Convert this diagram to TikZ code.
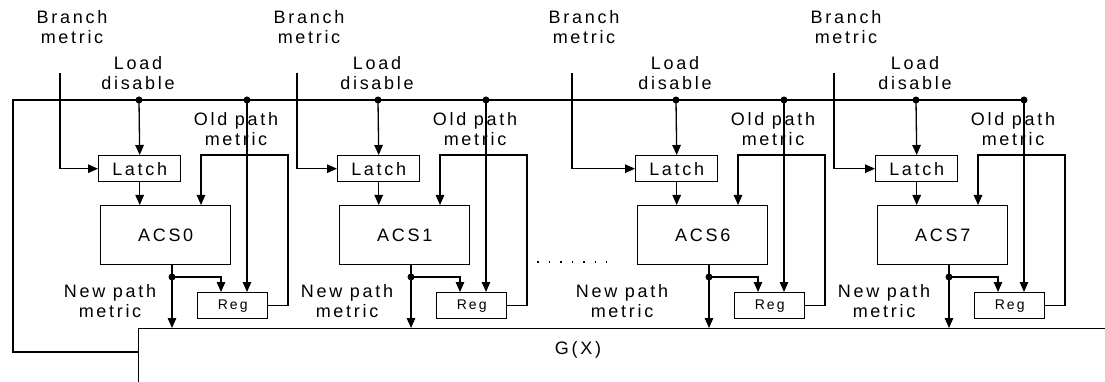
\documentclass[tikz,border=0pt]{standalone}
\usepackage{fontspec}
\setmainfont{Liberation Sans}[LetterSpace=15]
\usetikzlibrary{positioning,arrows.meta}

\tikzset{
  blk/.style={draw, line width=1.4pt, inner sep=0pt},
  sig/.style={line width=1.3pt},
  arr/.style={sig, -{Triangle[length=10pt,width=8.5pt]}},
  lbl/.style={align=center, font=\fontsize{18}{20.5}\selectfont, inner sep=0pt},
  small/.style={font=\fontsize{14}{16}\selectfont},
  tap/.style={circle, fill, inner sep=0pt, minimum size=7pt},
}

\begin{document}
\begin{tikzpicture}[x=1pt,y=-1pt]
\useasboundingbox (0,0) rectangle (1105,382);
\clip (0,0) rectangle (1105,382);
% G(X) block, cut by the lower and right edges
\node[blk, anchor=north west, minimum width=1100pt, minimum height=120pt] (gx) at (138,328) {};
\node[lbl] (gtext) at (578,350) {G(X)};
% one ACS slice per unit
\foreach \X/\B/\n in {98/-38/0, 337/-40/1, 635/-63/6, 875/-41/7} {
  \node[blk, lbl, anchor=north west, minimum width=82pt, minimum height=26pt] (latch\n) at (\X,155) {Latch};
  \node[blk, lbl, anchor=north west, minimum width=130pt, minimum height=59pt] (acs\n) at (\X+2,205) {ACS\n};
  \node[blk, small, anchor=north west, minimum width=70pt, minimum height=26pt] (reg\n) at (\X+99,292) {Reg};
  \node[lbl] (bm\n) at (\X+\B+12,27) {Branch\\metric};
  \node[lbl] (ld\n) at (\X+40,73) {Load\\disable};
  \node[lbl] (op\n) at (\X+138,129) {Old path\\metric};
  \node[lbl] (np\n) at (\X+\B+50,301) {New path\\metric};
  \node[tap] (ldtap\n) at (\X+41,100) {};
  \node[tap] (optap\n) at (\X+149,100) {};
  \node[tap] (nptap\n) at (\X+74,277) {};
  \coordinate (bmtop\n) at (\X+\B,73);
  \coordinate (fb\n) at (\X+190,155);
  % connectors
  \draw[arr] (bmtop\n) |- (latch\n.west);
  \draw[arr] (ldtap\n.center) -- (latch\n.north);
  \draw[arr] (latch\n.south) -- (latch\n.south |- acs\n.north);
  \draw[arr] (optap\n.center) -- (optap\n.center |- reg\n.north);
  \draw[sig] (acs\n.south -| nptap\n) -- (nptap\n.center);
  \draw[arr] (nptap\n.center) -- (nptap\n.center |- gx.north);
  \draw[arr] (nptap\n.center) -| ([xshift=24pt]reg\n.north west);
  \draw[arr] (reg\n.east) -| (fb\n) -| ([xshift=101pt]acs\n.north west);
}
% load disable bus, back round to G(X)
\coordinate (busend) at (13,352);
\draw[sig] (optap7.center) -| (busend) -- (busend -| gx.west);
% slices not drawn
\draw[line width=1.8pt, dash pattern=on 1.5pt off 10pt] (537,262) -- (607,262);
\end{tikzpicture}
\end{document}
